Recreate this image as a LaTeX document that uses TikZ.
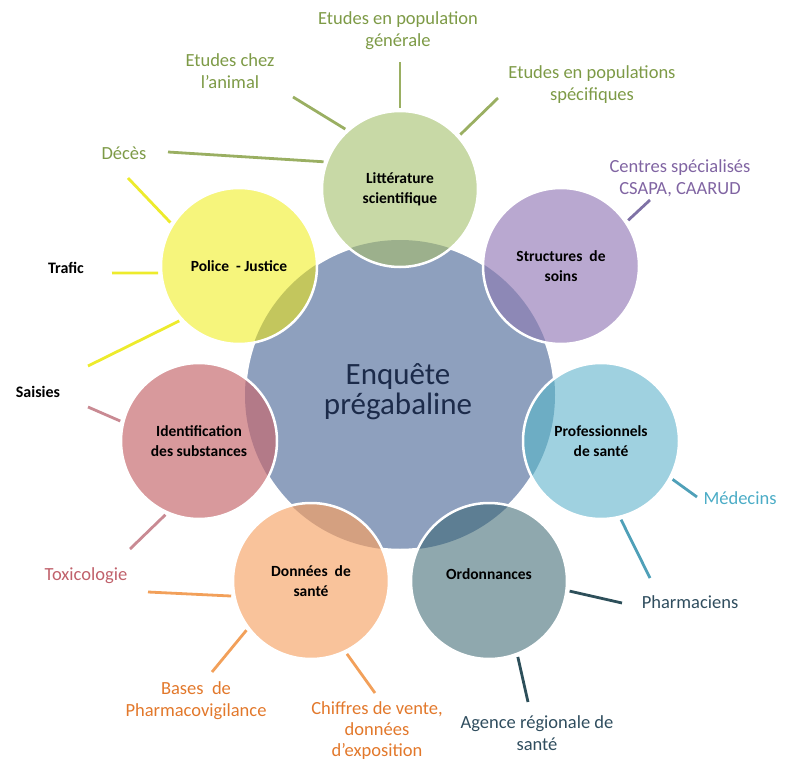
\documentclass[tikz,border=0pt]{standalone}
\usepackage{fontspec}
\setmainfont{Carlito}
\usetikzlibrary{positioning}

\definecolor{centfill}{HTML}{8EA0BE}
\definecolor{centtext}{HTML}{1C2B4A}
\definecolor{litfill}{HTML}{C8D9A6}
\definecolor{litover}{HTML}{9CB08C}
\definecolor{litline}{HTML}{9AAF62}
\definecolor{littext}{HTML}{7D9A46}
\definecolor{strfill}{HTML}{B9A8D0}
\definecolor{strover}{HTML}{8D88B6}
\definecolor{strline}{HTML}{7F72A6}
\definecolor{strtext}{HTML}{8064A2}
\definecolor{profill}{HTML}{9FD1E0}
\definecolor{proover}{HTML}{6DADC4}
\definecolor{proline}{HTML}{4FA0B8}
\definecolor{protext}{HTML}{4BACC6}
\definecolor{ordfill}{HTML}{8FA8AE}
\definecolor{ordover}{HTML}{5D7E93}
\definecolor{ordline}{HTML}{2D4F5A}
\definecolor{ordtext}{HTML}{2F4D5E}
\definecolor{donfill}{HTML}{F9C39B}
\definecolor{donover}{HTML}{D4A080}
\definecolor{donline}{HTML}{F2A05A}
\definecolor{dontext}{HTML}{E2782B}
\definecolor{idefill}{HTML}{D8999C}
\definecolor{ideover}{HTML}{B37A88}
\definecolor{ideline}{HTML}{C98A93}
\definecolor{idetext}{HTML}{C0616B}
\definecolor{polfill}{HTML}{F6F57C}
\definecolor{polover}{HTML}{C3C65D}
\definecolor{polline}{HTML}{EDEB2C}

\begin{document}
\begin{tikzpicture}[x=1pt,y=-1pt,
    centre/.style={circle,draw=white,line width=2.5pt,fill=centfill,minimum size=310pt,inner sep=0pt},
    bubble/.style 2 args={circle,draw=white,line width=2.5pt,fill=#1,minimum size=156pt,inner sep=0pt,
      align=center,font=\fontsize{15.5}{20}\selectfont\bfseries,
      path picture={\fill[#2] (enq.center) circle (155pt);}},
    lbl/.style={align=center,font=\fontsize{18.5}{22}\selectfont},
    link/.style={line width=2.8pt,shorten <=2pt}]
  \useasboundingbox (0,0) rectangle (790,760);

  % centre
  \node[centre] (enq) at (400,395) {};
  \node[align=center,text=centtext,font=\fontsize{31}{30}\selectfont] (enqtxt) at (398,392) {Enquête\\prégabaline};

  % sources
  \node[bubble={litfill}{litover}] (lit) at (400,189) {Littérature\\scientifique};
  \node[bubble={strfill}{strover}] (str) at (561,266) {Structures\ \ de\\soins};
  \node[bubble={profill}{proover}] (pro) at (601,441) {Professionnels\\de santé};
  \node[bubble={ordfill}{ordover}] (ord) at (489,581) {Ordonnances\\[-6pt]\mbox{}};
  \node[bubble={donfill}{donover}] (don) at (311,581) {Données\ \ de\\santé};
  \node[bubble={idefill}{ideover}] (ide) at (199,441) {Identification\\des substances};
  \node[bubble={polfill}{polover}] (pol) at (239,266) {Police\ \ - Justice};

  % labels
  \node[lbl,text=littext] (gen) at (398,31) {Etudes en population\\générale};
  \node[lbl,text=littext] (ani) at (230,71) {Etudes chez\\l'animal};
  \node[lbl,text=littext] (spe) at (592,85) {Etudes en populations\\spécifiques};
  \node[lbl,text=littext] (dec) at (124,153) {Décès};
  \node[lbl] (tra) at (66,268) {\bfseries\fontsize{16}{20}\selectfont Trafic};
  \node[lbl] (sai) at (38,392) {\bfseries\fontsize{16}{20}\selectfont Saisies};
  \node[lbl,text=idetext] (tox) at (86,576) {Toxicologie};
  \node[lbl,text=dontext] (bas) at (196,701) {Bases\ \ de\\Pharmacovigilance};
  \node[lbl,text=dontext,font=\fontsize{18.5}{21}\selectfont] (chi) at (377,731) {Chiffres de vente,\\données\\d'exposition};
  \node[lbl,text=ordtext] (age) at (537,733) {Agence régionale de\\santé};
  \node[lbl,text=ordtext] (pha) at (690,602) {Pharmaciens};
  \node[lbl,text=protext] (med) at (740,498) {Médecins};
  \node[lbl,text=strtext] (csa) at (680,178) {Centres spécialisés\\CSAPA, CAARUD};

  % free ends
  \coordinate (genend) at (400,62);
  \coordinate (aniend) at (293,97);
  \coordinate (speend) at (498,98);
  \coordinate (decend) at (168,152);
  \coordinate (poldec) at (128,178);
  \coordinate (traend) at (112,273);
  \coordinate (polsai) at (88,366);
  \coordinate (idesai) at (88,407);
  \coordinate (toxend) at (130,549);
  \coordinate (donend) at (148,592);
  \coordinate (basend) at (212,672);
  \coordinate (chiend) at (375,693);
  \coordinate (phaend) at (622,603);
  \coordinate (ageend) at (528,702);
  \coordinate (medend) at (697,497);
  \coordinate (prophar) at (650,578);
  \coordinate (csaend) at (650,200);

  % connectors
  \draw[link,litline] (lit.90) -- (genend);
  \draw[link,litline] (lit.132) -- (aniend);
  \draw[link,litline] (lit.42) -- (speend);
  \draw[link,litline] (lit.160) -- (decend);
  \draw[link,polline] (pol.148) -- (poldec);
  \draw[link,polline] (pol.185) -- (traend);
  \draw[link,polline] (pol.223) -- (polsai);
  \draw[link,ideline] (ide.166) -- (idesai);
  \draw[link,ideline] (ide.246) -- (toxend);
  \draw[link,donline] (don.191) -- (donend);
  \draw[link,donline] (don.217) -- (basend);
  \draw[link,donline] (don.296) -- (chiend);
  \draw[link,ordline] (ord.353) -- (phaend);
  \draw[link,ordline] (ord.291) -- (ageend);
  \draw[link,proline] (pro.332) -- (medend);
  \draw[link,proline] (pro.284) -- (prophar);
  \draw[link,strline] (str.34) -- (csaend);
\end{tikzpicture}
\end{document}
